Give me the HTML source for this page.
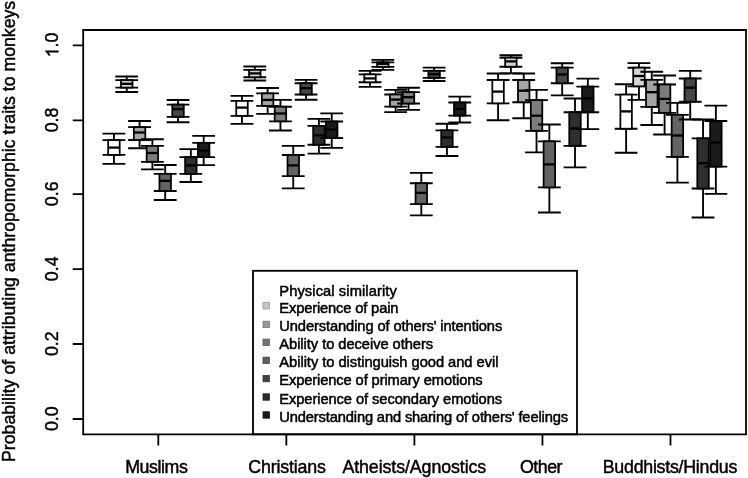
<!DOCTYPE html>
<html><head><meta charset="utf-8"><style>
html,body{margin:0;padding:0;background:#fff;width:748px;height:478px;overflow:hidden}
svg{display:block;filter:grayscale(1)}
text{font-family:"Liberation Sans",sans-serif;fill:#000}
</style></head><body>
<svg width="748" height="478" viewBox="0 0 748 478">
<rect width="748" height="478" fill="#fff"/>
<g stroke="#000" stroke-width="1.85" fill="none">
<path d="M113.93 133.60V163.90M102.53 133.60H125.33M102.53 163.90H125.33M102.53 140.10H125.33M102.53 154.90H125.33"/><rect x="108.18" y="140.10" width="11.50" height="14.80" fill="#ffffff" stroke-width="1.75"/><path d="M108.18 147.60H119.68" stroke-width="2.3"/><path d="M126.75 76.50V92.00M115.35 76.50H138.15M115.35 92.00H138.15M115.35 80.10H138.15M115.35 87.60H138.15"/><rect x="121.00" y="80.10" width="11.50" height="7.50" fill="#d4d4d4" stroke-width="1.75"/><path d="M121.00 83.80H132.50" stroke-width="2.3"/><path d="M139.57 121.00V148.20M128.17 121.00H150.97M128.17 148.20H150.97M128.17 127.10H150.97M128.17 140.00H150.97"/><rect x="133.82" y="127.10" width="11.50" height="12.90" fill="#a4a4a4" stroke-width="1.75"/><path d="M133.82 132.50H145.32" stroke-width="2.3"/><path d="M152.39 139.20V169.30M140.99 139.20H163.79M140.99 169.30H163.79M140.99 145.90H163.79M140.99 161.80H163.79"/><rect x="146.64" y="145.90" width="11.50" height="15.90" fill="#7c7c7c" stroke-width="1.75"/><path d="M146.64 153.00H158.14" stroke-width="2.3"/><path d="M165.21 165.00V200.00M153.81 165.00H176.61M153.81 200.00H176.61M153.81 173.80H176.61M153.81 191.00H176.61"/><rect x="159.46" y="173.80" width="11.50" height="17.20" fill="#636363" stroke-width="1.75"/><path d="M159.46 180.90H170.96" stroke-width="2.3"/><path d="M178.03 100.00V122.20M166.63 100.00H189.43M166.63 122.20H189.43M166.63 104.60H189.43M166.63 116.80H189.43"/><rect x="172.28" y="104.60" width="11.50" height="12.20" fill="#474747" stroke-width="1.75"/><path d="M172.28 109.10H183.78" stroke-width="2.3"/><path d="M190.85 149.10V182.00M179.45 149.10H202.25M179.45 182.00H202.25M179.45 157.10H202.25M179.45 173.90H202.25"/><rect x="185.10" y="157.10" width="11.50" height="16.80" fill="#2e2e2e" stroke-width="1.75"/><path d="M185.10 165.40H196.60" stroke-width="2.3"/><path d="M203.67 135.80V165.10M192.27 135.80H215.07M192.27 165.10H215.07M192.27 142.80H215.07M192.27 157.10H215.07"/><rect x="197.92" y="142.80" width="11.50" height="14.30" fill="#1a1a1a" stroke-width="1.75"/><path d="M197.92 150.60H209.42" stroke-width="2.3"/><path d="M241.98 95.90V123.90M230.58 95.90H253.38M230.58 123.90H253.38M230.58 100.90H253.38M230.58 115.80H253.38"/><rect x="236.23" y="100.90" width="11.50" height="14.90" fill="#ffffff" stroke-width="1.75"/><path d="M236.23 107.60H247.73" stroke-width="2.3"/><path d="M254.80 66.50V80.50M243.40 66.50H266.20M243.40 80.50H266.20M243.40 69.90H266.20M243.40 77.20H266.20"/><rect x="249.05" y="69.90" width="11.50" height="7.30" fill="#d4d4d4" stroke-width="1.75"/><path d="M249.05 73.40H260.55" stroke-width="2.3"/><path d="M267.62 88.00V113.90M256.22 88.00H279.02M256.22 113.90H279.02M256.22 93.40H279.02M256.22 105.90H279.02"/><rect x="261.87" y="93.40" width="11.50" height="12.50" fill="#a4a4a4" stroke-width="1.75"/><path d="M261.87 99.90H273.37" stroke-width="2.3"/><path d="M280.44 99.90V130.50M269.04 99.90H291.84M269.04 130.50H291.84M269.04 106.70H291.84M269.04 121.30H291.84"/><rect x="274.69" y="106.70" width="11.50" height="14.60" fill="#7c7c7c" stroke-width="1.75"/><path d="M274.69 113.50H286.19" stroke-width="2.3"/><path d="M293.26 145.80V188.40M281.86 145.80H304.66M281.86 188.40H304.66M281.86 155.00H304.66M281.86 176.10H304.66"/><rect x="287.51" y="155.00" width="11.50" height="21.10" fill="#636363" stroke-width="1.75"/><path d="M287.51 165.40H299.01" stroke-width="2.3"/><path d="M306.08 79.90V99.70M294.68 79.90H317.48M294.68 99.70H317.48M294.68 83.20H317.48M294.68 94.50H317.48"/><rect x="300.33" y="83.20" width="11.50" height="11.30" fill="#474747" stroke-width="1.75"/><path d="M300.33 88.20H311.83" stroke-width="2.3"/><path d="M318.90 118.80V153.60M307.50 118.80H330.30M307.50 153.60H330.30M307.50 125.90H330.30M307.50 144.70H330.30"/><rect x="313.15" y="125.90" width="11.50" height="18.80" fill="#2e2e2e" stroke-width="1.75"/><path d="M313.15 135.30H324.65" stroke-width="2.3"/><path d="M331.72 113.40V147.90M320.32 113.40H343.12M320.32 147.90H343.12M320.32 121.50H343.12M320.32 138.00H343.12"/><rect x="325.97" y="121.50" width="11.50" height="16.50" fill="#1a1a1a" stroke-width="1.75"/><path d="M325.97 129.60H337.47" stroke-width="2.3"/><path d="M370.03 70.90V86.80M358.63 70.90H381.43M358.63 86.80H381.43M358.63 74.40H381.43M358.63 82.20H381.43"/><rect x="364.28" y="74.40" width="11.50" height="7.80" fill="#ffffff" stroke-width="1.75"/><path d="M364.28 78.40H375.78" stroke-width="2.3"/><path d="M382.85 59.80V69.80M371.45 59.80H394.25M371.45 69.80H394.25M371.45 62.30H394.25M371.45 66.80H394.25"/><rect x="377.10" y="62.30" width="11.50" height="4.50" fill="#d4d4d4" stroke-width="1.75"/><path d="M377.10 63.80H388.60" stroke-width="2.3"/><path d="M395.67 89.90V112.10M384.27 89.90H407.07M384.27 112.10H407.07M384.27 94.50H407.07M384.27 106.60H407.07"/><rect x="389.92" y="94.50" width="11.50" height="12.10" fill="#a4a4a4" stroke-width="1.75"/><path d="M389.92 99.60H401.42" stroke-width="2.3"/><path d="M408.49 87.70V109.90M397.09 87.70H419.89M397.09 109.90H419.89M397.09 92.10H419.89M397.09 103.50H419.89"/><rect x="402.74" y="92.10" width="11.50" height="11.40" fill="#7c7c7c" stroke-width="1.75"/><path d="M402.74 97.20H414.24" stroke-width="2.3"/><path d="M421.31 172.80V215.30M409.91 172.80H432.71M409.91 215.30H432.71M409.91 183.20H432.71M409.91 204.10H432.71"/><rect x="415.56" y="183.20" width="11.50" height="20.90" fill="#636363" stroke-width="1.75"/><path d="M415.56 192.90H427.06" stroke-width="2.3"/><path d="M434.13 67.60V81.00M422.73 67.60H445.53M422.73 81.00H445.53M422.73 70.80H445.53M422.73 77.90H445.53"/><rect x="428.38" y="70.80" width="11.50" height="7.10" fill="#474747" stroke-width="1.75"/><path d="M428.38 74.20H439.88" stroke-width="2.3"/><path d="M446.95 123.70V156.00M435.55 123.70H458.35M435.55 156.00H458.35M435.55 130.30H458.35M435.55 146.80H458.35"/><rect x="441.20" y="130.30" width="11.50" height="16.50" fill="#2e2e2e" stroke-width="1.75"/><path d="M441.20 137.50H452.70" stroke-width="2.3"/><path d="M459.77 96.60V122.50M448.37 96.60H471.17M448.37 122.50H471.17M448.37 102.50H471.17M448.37 115.60H471.17"/><rect x="454.02" y="102.50" width="11.50" height="13.10" fill="#1a1a1a" stroke-width="1.75"/><path d="M454.02 109.00H465.52" stroke-width="2.3"/><path d="M498.08 73.50V120.20M486.68 73.50H509.48M486.68 120.20H509.48M486.68 80.00H509.48M486.68 103.30H509.48"/><rect x="492.33" y="80.00" width="11.50" height="23.30" fill="#ffffff" stroke-width="1.75"/><path d="M492.33 91.60H503.83" stroke-width="2.3"/><path d="M510.90 55.20V73.30M499.50 55.20H522.30M499.50 73.30H522.30M499.50 57.70H522.30M499.50 66.70H522.30"/><rect x="505.15" y="57.70" width="11.50" height="9.00" fill="#d4d4d4" stroke-width="1.75"/><path d="M505.15 61.40H516.65" stroke-width="2.3"/><path d="M523.72 73.50V118.20M512.32 73.50H535.12M512.32 118.20H535.12M512.32 80.00H535.12M512.32 102.20H535.12"/><rect x="517.97" y="80.00" width="11.50" height="22.20" fill="#a4a4a4" stroke-width="1.75"/><path d="M517.97 90.70H529.47" stroke-width="2.3"/><path d="M536.54 89.80V152.40M525.14 89.80H547.94M525.14 152.40H547.94M525.14 100.10H547.94M525.14 130.80H547.94"/><rect x="530.79" y="100.10" width="11.50" height="30.70" fill="#7c7c7c" stroke-width="1.75"/><path d="M530.79 115.70H542.29" stroke-width="2.3"/><path d="M549.36 124.50V212.50M537.96 124.50H560.76M537.96 212.50H560.76M537.96 141.30H560.76M537.96 187.40H560.76"/><rect x="543.61" y="141.30" width="11.50" height="46.10" fill="#636363" stroke-width="1.75"/><path d="M543.61 164.40H555.11" stroke-width="2.3"/><path d="M562.18 63.20V95.40M550.78 63.20H573.58M550.78 95.40H573.58M550.78 67.60H573.58M550.78 83.20H573.58"/><rect x="556.43" y="67.60" width="11.50" height="15.60" fill="#474747" stroke-width="1.75"/><path d="M556.43 74.50H567.93" stroke-width="2.3"/><path d="M575.00 98.50V167.40M563.60 98.50H586.40M563.60 167.40H586.40M563.60 112.20H586.40M563.60 145.80H586.40"/><rect x="569.25" y="112.20" width="11.50" height="33.60" fill="#2e2e2e" stroke-width="1.75"/><path d="M569.25 128.50H580.75" stroke-width="2.3"/><path d="M587.82 78.60V129.10M576.42 78.60H599.22M576.42 129.10H599.22M576.42 86.60H599.22M576.42 112.20H599.22"/><rect x="582.07" y="86.60" width="11.50" height="25.60" fill="#1a1a1a" stroke-width="1.75"/><path d="M582.07 98.30H593.57" stroke-width="2.3"/><path d="M626.13 84.20V152.70M614.73 84.20H637.53M614.73 152.70H637.53M614.73 94.60H637.53M614.73 128.70H637.53"/><rect x="620.38" y="94.60" width="11.50" height="34.10" fill="#ffffff" stroke-width="1.75"/><path d="M620.38 111.40H631.88" stroke-width="2.3"/><path d="M638.95 63.10V99.80M627.55 63.10H650.35M627.55 99.80H650.35M627.55 67.70H650.35M627.55 86.30H650.35"/><rect x="633.20" y="67.70" width="11.50" height="18.60" fill="#d4d4d4" stroke-width="1.75"/><path d="M633.20 76.00H644.70" stroke-width="2.3"/><path d="M651.77 71.70V125.00M640.37 71.70H663.17M640.37 125.00H663.17M640.37 79.80H663.17M640.37 106.90H663.17"/><rect x="646.02" y="79.80" width="11.50" height="27.10" fill="#a4a4a4" stroke-width="1.75"/><path d="M646.02 92.20H657.52" stroke-width="2.3"/><path d="M664.59 75.50V134.50M653.19 75.50H675.99M653.19 134.50H675.99M653.19 84.50H675.99M653.19 112.80H675.99"/><rect x="658.84" y="84.50" width="11.50" height="28.30" fill="#7c7c7c" stroke-width="1.75"/><path d="M658.84 98.90H670.34" stroke-width="2.3"/><path d="M677.41 102.80V182.60M666.01 102.80H688.81M666.01 182.60H688.81M666.01 114.80H688.81M666.01 156.80H688.81"/><rect x="671.66" y="114.80" width="11.50" height="42.00" fill="#636363" stroke-width="1.75"/><path d="M671.66 135.50H683.16" stroke-width="2.3"/><path d="M690.23 70.90V119.50M678.83 70.90H701.63M678.83 119.50H701.63M678.83 78.50H701.63M678.83 101.70H701.63"/><rect x="684.48" y="78.50" width="11.50" height="23.20" fill="#474747" stroke-width="1.75"/><path d="M684.48 87.70H695.98" stroke-width="2.3"/><path d="M703.05 119.50V217.50M691.65 119.50H714.45M691.65 217.50H714.45M691.65 138.30H714.45M691.65 188.50H714.45"/><rect x="697.30" y="138.30" width="11.50" height="50.20" fill="#2e2e2e" stroke-width="1.75"/><path d="M697.30 163.20H708.80" stroke-width="2.3"/><path d="M715.87 105.60V193.80M704.47 105.60H727.27M704.47 193.80H727.27M704.47 121.00H727.27M704.47 166.60H727.27"/><rect x="710.12" y="121.00" width="11.50" height="45.60" fill="#1a1a1a" stroke-width="1.75"/><path d="M710.12 142.50H721.62" stroke-width="2.3"/>
</g>
<g stroke="#000" stroke-width="1.8" fill="none">
<rect x="253" y="270.8" width="324" height="163.5" fill="#fff"/>
</g>
<g font-size="14.7" stroke="#000" stroke-width="0.5">
<text x="279.3" y="295.50" textLength="117.49" lengthAdjust="spacing">Physical similarity</text><rect x="263.0" y="302.60" width="6.4" height="6.4" fill="#c5c5c5" stroke="#989898" stroke-width="0.8"/><text x="279.3" y="313.40" textLength="119.13" lengthAdjust="spacing">Experience of pain</text><rect x="263.0" y="321.20" width="6.4" height="6.4" fill="#989898" stroke="#767676" stroke-width="0.8"/><text x="279.3" y="331.30" textLength="222.96" lengthAdjust="spacing">Understanding of others' intentions</text><rect x="263.0" y="339.10" width="6.4" height="6.4" fill="#737373" stroke="#595959" stroke-width="0.8"/><text x="279.3" y="348.90" textLength="153.88" lengthAdjust="spacing">Ability to deceive others</text><rect x="263.0" y="357.10" width="6.4" height="6.4" fill="#5c5c5c" stroke="#474747" stroke-width="0.8"/><text x="279.3" y="367.20" textLength="219.12" lengthAdjust="spacing">Ability to distinguish good and evil</text><rect x="263.0" y="375.40" width="6.4" height="6.4" fill="#424242" stroke="#333333" stroke-width="0.8"/><text x="279.3" y="385.40" textLength="203.29" lengthAdjust="spacing">Experience of primary emotions</text><rect x="263.0" y="393.80" width="6.4" height="6.4" fill="#2a2a2a" stroke="#212121" stroke-width="0.8"/><text x="279.3" y="403.60" textLength="222.78" lengthAdjust="spacing">Experience of secondary emotions</text><rect x="263.0" y="411.80" width="6.4" height="6.4" fill="#181818" stroke="#121212" stroke-width="0.8"/><text x="279.3" y="422.00" textLength="288.73" lengthAdjust="spacing">Understanding and sharing of others' feelings</text>
</g>
<g stroke="#000" stroke-width="1.8" fill="none">
<path d="M83.2 30H746V434.3H83.2Z"/>
<path d="M72.7 419.00H83.2M72.7 344.00H83.2M72.7 269.10H83.2M72.7 194.10H83.2M72.7 120.30H83.2M72.7 45.30H83.2M158.30 434.3V445.5M286.35 434.3V445.5M414.40 434.3V445.5M542.45 434.3V445.5M670.50 434.3V445.5"/>
</g>
<g font-size="17.8" stroke="#000" stroke-width="0.45">
<text transform="translate(58.3 418.70) rotate(-90)" text-anchor="middle">0.0</text><text transform="translate(58.3 343.70) rotate(-90)" text-anchor="middle">0.2</text><text transform="translate(58.3 268.80) rotate(-90)" text-anchor="middle">0.4</text><text transform="translate(58.3 193.80) rotate(-90)" text-anchor="middle">0.6</text><text transform="translate(58.3 120.00) rotate(-90)" text-anchor="middle">0.8</text><text transform="translate(58.3 47.47) rotate(-90)">.0</text><path transform="translate(58.3 57.37) rotate(-90) scale(0.00869 -0.00869)" stroke-width="51.8" d="M763 0H583V1147Q518 1085 412.5 1023Q307 961 223 930V1104Q374 1175 487 1276Q600 1377 647 1472H763Z"/>
<text x="156.5" y="473" text-anchor="middle" textLength="62.7" lengthAdjust="spacing">Muslims</text><text x="287.1" y="473" text-anchor="middle" textLength="77.8" lengthAdjust="spacing">Christians</text><text x="414.3" y="473" text-anchor="middle" textLength="143.8" lengthAdjust="spacing">Atheists/Agnostics</text><text x="541.2" y="473" text-anchor="middle" textLength="42.6" lengthAdjust="spacing">Other</text><text x="670.05" y="473" text-anchor="middle" textLength="134.6" lengthAdjust="spacing">Buddhists/Hindus</text>
</g>
<text transform="translate(15.0 231.4) rotate(-90)" text-anchor="middle" font-size="17.7" textLength="461.2" lengthAdjust="spacingAndGlyphs" stroke="#000" stroke-width="0.45">Probability of attributing anthropomorphic traits to monkeys</text>
</svg>
</body></html>
